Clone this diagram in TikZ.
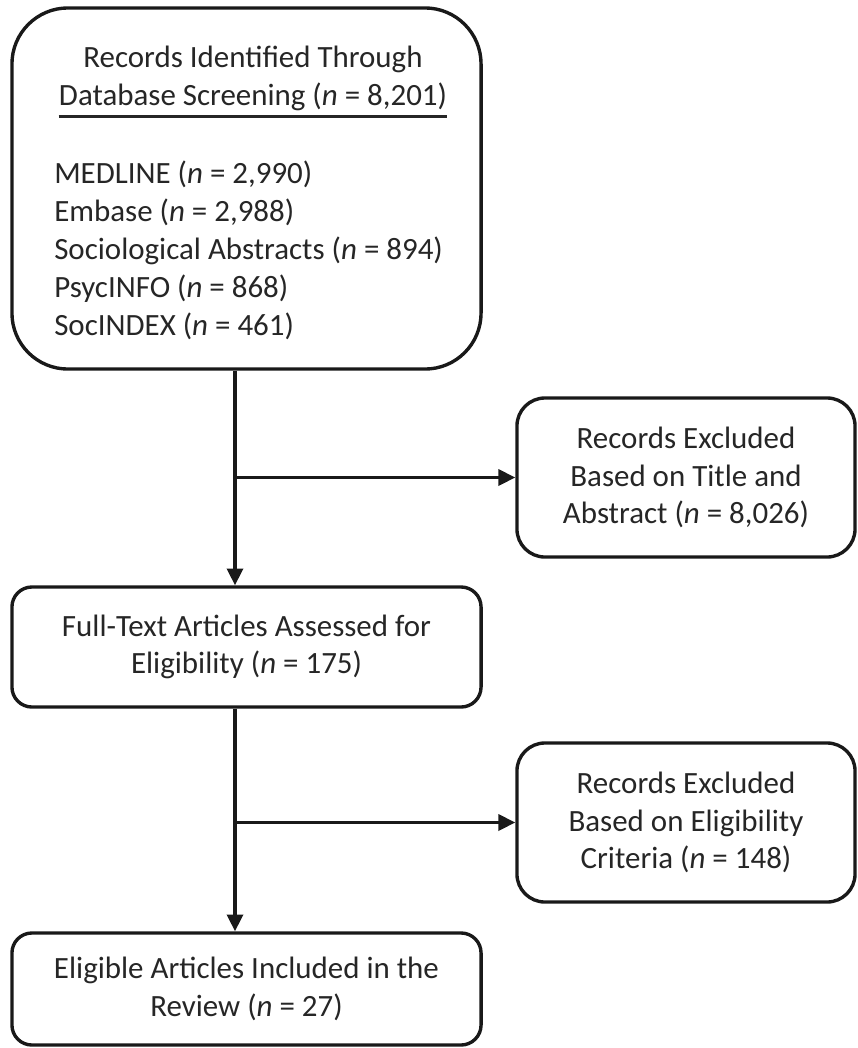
\documentclass[tikz,border=0pt]{standalone}
\usepackage{fontspec}
\setmainfont{Carlito}
\usetikzlibrary{positioning,arrows.meta}

\tikzset{
  box/.style={draw=black!90, line width=2.4pt, fill=white, text=black!85, align=center,
    font=\fontsize{22}{26.5}\selectfont},
  boxtext/.style={inner sep=0pt, text=black!85, font=\fontsize{22}{27}\selectfont},
  flowarrow/.style={draw=black!90, line width=2.4pt, -{Triangle[length=0.42cm,width=0.4cm]}},
}

\begin{document}
\begin{tikzpicture}[x=0.025cm, y=-0.025cm]
  \useasboundingbox (0,0) rectangle (857,1048);
  % search box: heading plus database list
  \node[box, rounded corners=1.4cm, minimum width=11.725cm, minimum height=9.025cm] (recs) at (246.5,188.5) {};
  \node[boxtext, align=center] (head) at (253,78) {Records Identified Through\\Database Screening (\textit{n} = 8,201)};
  \draw[black!85, line width=1.8pt] ([yshift=-4pt]head.south west) -- ([yshift=-4pt]head.south east);
  \node[boxtext, align=left, anchor=west] (dbs) at (54,250) {MEDLINE (\textit{n} = 2,990)\\Embase (\textit{n} = 2,988)\\Sociological Abstracts (\textit{n} = 894)\\PsycINFO (\textit{n} = 868)\\SocINDEX (\textit{n} = 461)};
  % main column
  \node[box, rounded corners=0.5cm, minimum width=11.725cm, minimum height=3cm] (full) at (246.5,647) {Full-Text Articles Assessed for\\Eligibility (\textit{n} = 175)};
  \node[box, rounded corners=0.5cm, minimum width=11.725cm, minimum height=2.8cm] (incl) at (246.5,989) {Eligible Articles Included in the\\Review (\textit{n} = 27)};
  % exclusions on the right
  \node[box, rounded corners=0.7cm, minimum width=8.45cm, minimum height=3.975cm] (exclA) at (686,477.5) {Records Excluded\\Based on Title and\\Abstract (\textit{n} = 8,026)};
  \node[box, rounded corners=0.7cm, minimum width=8.45cm, minimum height=3.975cm] (exclB) at (686,822.5) {Records Excluded\\Based on Eligibility\\Criteria (\textit{n} = 148)};
  % junctions on the spine
  \coordinate (jA) at (235,477.5);
  \coordinate (jB) at (235,822.5);
  \draw[flowarrow] (jA |- recs.south) -- (jA |- full.north);
  \draw[flowarrow] (jA) -- (exclA.west);
  \draw[flowarrow] (jB |- full.south) -- (jB |- incl.north);
  \draw[flowarrow] (jB) -- (exclB.west);
\end{tikzpicture}
\end{document}
